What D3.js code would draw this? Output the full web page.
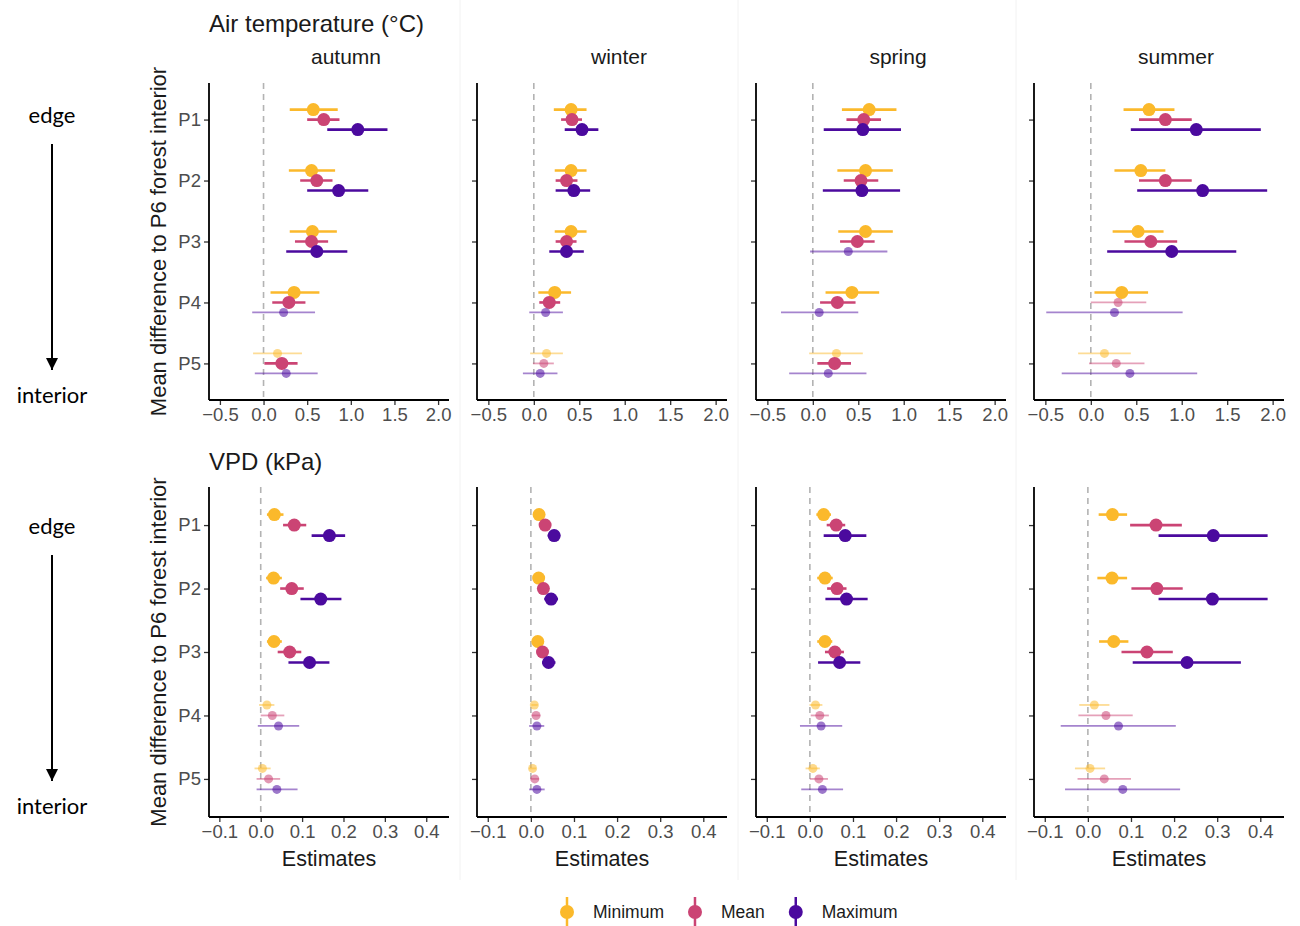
<!DOCTYPE html>
<html>
<head>
<meta charset="utf-8">
<script src="https://cdn.jsdelivr.net/npm/d3@7"></script>
<style>
  body { margin: 0; background: #fff; }
  text { font-family: "Liberation Sans", Arial, sans-serif; }
</style>
</head>
<body>
<div id="chart"></div>
<script>
'use strict';

var sites = ['P1', 'P2', 'P3', 'P4', 'P5'];
var stats = ['Minimum', 'Mean', 'Maximum'];
var seasons = ['autumn', 'winter', 'spring', 'summer'];
var tempTicks = [-0.5, 0, 0.5, 1, 1.5, 2];
var vpdTicks = [-0.1, 0, 0.1, 0.2, 0.3, 0.4];

// [site, stat, estimate, lower, upper, significant]
var tempAutumn = [
  ['P1','Minimum',0.57,0.30,0.85,1], ['P1','Mean',0.69,0.50,0.87,1], ['P1','Maximum',1.08,0.73,1.42,1],
  ['P2','Minimum',0.55,0.29,0.82,1], ['P2','Mean',0.61,0.42,0.79,1], ['P2','Maximum',0.86,0.50,1.20,1],
  ['P3','Minimum',0.56,0.30,0.84,1], ['P3','Mean',0.55,0.36,0.74,1], ['P3','Maximum',0.61,0.26,0.96,1],
  ['P4','Minimum',0.35,0.08,0.64,1], ['P4','Mean',0.29,0.10,0.48,1], ['P4','Maximum',0.23,-0.13,0.59,0],
  ['P5','Minimum',0.16,-0.12,0.44,0], ['P5','Mean',0.21,0.01,0.39,1], ['P5','Maximum',0.26,-0.10,0.62,0]
];
var tempWinter = [
  ['P1','Minimum',0.41,0.22,0.58,1], ['P1','Mean',0.42,0.30,0.53,1], ['P1','Maximum',0.53,0.34,0.71,1],
  ['P2','Minimum',0.41,0.23,0.58,1], ['P2','Mean',0.36,0.24,0.48,1], ['P2','Maximum',0.44,0.24,0.62,1],
  ['P3','Minimum',0.41,0.23,0.58,1], ['P3','Mean',0.36,0.24,0.47,1], ['P3','Maximum',0.36,0.17,0.55,1],
  ['P4','Minimum',0.23,0.05,0.41,1], ['P4','Mean',0.17,0.06,0.29,1], ['P4','Maximum',0.13,-0.05,0.32,0],
  ['P5','Minimum',0.14,-0.04,0.32,0], ['P5','Mean',0.11,-0.01,0.22,0], ['P5','Maximum',0.07,-0.12,0.26,0]
];
var tempSpring = [
  ['P1','Minimum',0.62,0.32,0.92,1], ['P1','Mean',0.56,0.37,0.75,1], ['P1','Maximum',0.55,0.12,0.97,1],
  ['P2','Minimum',0.58,0.27,0.88,1], ['P2','Mean',0.53,0.34,0.72,1], ['P2','Maximum',0.54,0.11,0.96,1],
  ['P3','Minimum',0.58,0.28,0.88,1], ['P3','Mean',0.49,0.30,0.68,1], ['P3','Maximum',0.39,-0.03,0.82,0],
  ['P4','Minimum',0.43,0.14,0.73,1], ['P4','Mean',0.27,0.08,0.47,1], ['P4','Maximum',0.07,-0.35,0.50,0],
  ['P5','Minimum',0.26,-0.04,0.55,0], ['P5','Mean',0.24,0.05,0.42,1], ['P5','Maximum',0.17,-0.26,0.59,0]
];
var tempSummer = [
  ['P1','Minimum',0.64,0.36,0.92,1], ['P1','Mean',0.82,0.53,1.11,1], ['P1','Maximum',1.16,0.44,1.87,1],
  ['P2','Minimum',0.55,0.26,0.82,1], ['P2','Mean',0.82,0.53,1.11,1], ['P2','Maximum',1.23,0.51,1.94,1],
  ['P3','Minimum',0.52,0.24,0.80,1], ['P3','Mean',0.66,0.37,0.95,1], ['P3','Maximum',0.89,0.18,1.60,1],
  ['P4','Minimum',0.34,0.04,0.63,1], ['P4','Mean',0.30,0.00,0.61,0], ['P4','Maximum',0.26,-0.49,1.01,0],
  ['P5','Minimum',0.15,-0.14,0.44,0], ['P5','Mean',0.28,-0.02,0.59,0], ['P5','Maximum',0.43,-0.32,1.17,0]
];
var vpdAutumn = [
  ['P1','Minimum',0.033,0.015,0.055,1], ['P1','Mean',0.081,0.054,0.110,1], ['P1','Maximum',0.166,0.123,0.204,1],
  ['P2','Minimum',0.031,0.013,0.051,1], ['P2','Mean',0.075,0.047,0.104,1], ['P2','Maximum',0.145,0.096,0.195,1],
  ['P3','Minimum',0.032,0.015,0.051,1], ['P3','Mean',0.070,0.041,0.098,1], ['P3','Maximum',0.118,0.067,0.166,1],
  ['P4','Minimum',0.015,-0.004,0.033,0], ['P4','Mean',0.028,0.000,0.057,0], ['P4','Maximum',0.043,-0.007,0.093,0],
  ['P5','Minimum',0.004,-0.015,0.024,0], ['P5','Mean',0.019,-0.010,0.047,0], ['P5','Maximum',0.039,-0.010,0.089,0]
];
var vpdWinter = [
  ['P1','Minimum',0.019,0.012,0.027,1], ['P1','Mean',0.033,0.025,0.041,1], ['P1','Maximum',0.054,0.039,0.068,1],
  ['P2','Minimum',0.018,0.011,0.026,1], ['P2','Mean',0.029,0.021,0.037,1], ['P2','Maximum',0.047,0.031,0.063,1],
  ['P3','Minimum',0.016,0.009,0.024,1], ['P3','Mean',0.027,0.019,0.035,1], ['P3','Maximum',0.041,0.026,0.057,1],
  ['P4','Minimum',0.008,0.001,0.016,0], ['P4','Mean',0.012,0.002,0.022,0], ['P4','Maximum',0.014,-0.004,0.031,0],
  ['P5','Minimum',0.004,-0.004,0.012,0], ['P5','Mean',0.009,0.000,0.019,0], ['P5','Maximum',0.014,-0.004,0.032,0]
];
var vpdSpring = [
  ['P1','Minimum',0.032,0.015,0.049,1], ['P1','Mean',0.061,0.039,0.082,1], ['P1','Maximum',0.082,0.032,0.131,1],
  ['P2','Minimum',0.035,0.017,0.053,1], ['P2','Mean',0.063,0.040,0.085,1], ['P2','Maximum',0.085,0.036,0.134,1],
  ['P3','Minimum',0.035,0.017,0.052,1], ['P3','Mean',0.058,0.035,0.079,1], ['P3','Maximum',0.069,0.019,0.117,1],
  ['P4','Minimum',0.013,-0.001,0.029,0], ['P4','Mean',0.023,0.002,0.044,0], ['P4','Maximum',0.026,-0.023,0.075,0],
  ['P5','Minimum',0.007,-0.010,0.023,0], ['P5','Mean',0.021,0.000,0.042,0], ['P5','Maximum',0.029,-0.020,0.077,0]
];
var vpdSummer = [
  ['P1','Minimum',0.057,0.025,0.091,1], ['P1','Mean',0.158,0.098,0.218,1], ['P1','Maximum',0.291,0.164,0.417,1],
  ['P2','Minimum',0.056,0.022,0.091,1], ['P2','Mean',0.160,0.101,0.220,1], ['P2','Maximum',0.289,0.164,0.417,1],
  ['P3','Minimum',0.060,0.026,0.094,1], ['P3','Mean',0.137,0.078,0.197,1], ['P3','Maximum',0.230,0.104,0.355,1],
  ['P4','Minimum',0.015,-0.020,0.050,0], ['P4','Mean',0.042,-0.022,0.104,0], ['P4','Maximum',0.071,-0.063,0.204,0],
  ['P5','Minimum',0.005,-0.030,0.040,0], ['P5','Mean',0.038,-0.024,0.100,0], ['P5','Maximum',0.081,-0.053,0.214,0]
];

var statColors = ['#FBB92B', '#CB4474', '#4B0A9E'];

var W = 1300, H = 926;
var panelX = [[209, 449], [477, 727], [756, 1006], [1034, 1284]];

var rows = [
  {title: 'Air temperature (°C)', titleY: 32, top: 83, bottom: 400, dodge: 10,
   domain: [-0.625, 2.125], ticks: tempTicks, fmt: d3.format('.1f'),
   panels: [tempAutumn, tempWinter, tempSpring, tempSummer], strips: true, xTitle: false,
   arrowTop: 123},
  {title: 'VPD (kPa)', titleY: 470, top: 487, bottom: 817, dodge: 10.5,
   domain: [-0.125, 0.455], ticks: vpdTicks, fmt: d3.format('.1f'),
   panels: [vpdAutumn, vpdWinter, vpdSpring, vpdSummer], strips: false, xTitle: true,
   arrowTop: 534}
];

var color = d3.scaleOrdinal().domain(stats).range(statColors);

var svg = d3.select('#chart').append('svg')
    .attr('width', W)
    .attr('height', H);

// faint borders of the pasted sub-figures
[460, 738, 1016].forEach(function(x) {
    svg.append('line')
        .attr('x1', x).attr('x2', x).attr('y1', 0).attr('y2', 880)
        .attr('stroke', '#f2f2f2').attr('stroke-width', 1);
});

svg.append('defs').append('marker')
    .attr('id', 'arrowhead')
    .attr('viewBox', '0 0 10 10')
    .attr('refX', 10).attr('refY', 5)
    .attr('markerWidth', 6).attr('markerHeight', 6)
    .attr('markerUnits', 'strokeWidth')
    .attr('orient', 'auto')
    .append('path')
    .attr('d', 'M0,0L10,5L0,10z')
    .attr('fill', '#000');

rows.forEach(function(row) {

    // row title
    svg.append('text')
        .attr('x', 209).attr('y', row.titleY)
        .attr('font-size', 24)
        .attr('fill', '#1a1a1a')
        .text(row.title);

    // edge / interior guide on the far left
    svg.append('text')
        .attr('x', 52).attr('y', row.arrowTop)
        .attr('text-anchor', 'middle')
        .style('font-family', 'Lato, "Open Sans", sans-serif')
        .attr('font-size', 22)
        .text('edge');
    svg.append('line')
        .attr('x1', 52).attr('x2', 52)
        .attr('y1', row.arrowTop + 21).attr('y2', row.arrowTop + 247)
        .attr('stroke', '#000').attr('stroke-width', 2)
        .attr('marker-end', 'url(#arrowhead)');
    svg.append('text')
        .attr('x', 52).attr('y', row.arrowTop + 280)
        .attr('text-anchor', 'middle')
        .style('font-family', 'Lato, "Open Sans", sans-serif')
        .attr('font-size', 22)
        .text('interior');

    // y axis title
    svg.append('text')
        .attr('transform', 'translate(166,' + ((row.top + row.bottom) / 2) + ') rotate(-90)')
        .attr('text-anchor', 'middle')
        .attr('font-size', 22)
        .attr('fill', '#1a1a1a')
        .text('Mean difference to P6 forest interior');

    var y = d3.scalePoint().domain(sites).range([row.top, row.bottom]).padding(0.6);
    var dy = d3.scalePoint().domain(stats).range([-row.dodge, row.dodge]);

    row.panels.forEach(function(data, i) {
        var x = d3.scaleLinear().domain(row.domain).range(panelX[i]);
        var g = svg.append('g');

        if (row.strips) {
            g.append('text')
                .attr('x', (panelX[i][0] + panelX[i][1]) / 2 + 17)
                .attr('y', 64)
                .attr('text-anchor', 'middle')
                .attr('font-size', 21)
                .attr('fill', '#1a1a1a')
                .text(seasons[i]);
        }

        // zero reference
        g.append('line')
            .attr('x1', x(0)).attr('x2', x(0))
            .attr('y1', row.top).attr('y2', row.bottom)
            .attr('stroke', '#b3b3b3').attr('stroke-width', 1.6)
            .attr('stroke-dasharray', '6,5');

        var pts = data.map(function(d) {
            return {site: d[0], stat: d[1], est: d[2], lo: d[3], hi: d[4], sig: d[5]};
        });

        g.selectAll('line.ci')
            .data(pts)
            .enter()
            .append('line')
            .attr('class', 'ci')
            .attr('x1', function(d) { return x(d.lo); })
            .attr('x2', function(d) { return x(d.hi); })
            .attr('y1', function(d) { return y(d.site) + dy(d.stat); })
            .attr('y2', function(d) { return y(d.site) + dy(d.stat); })
            .attr('stroke', function(d) { return color(d.stat); })
            .attr('stroke-width', function(d) { return d.sig ? 2.6 : 1.8; })
            .attr('stroke-opacity', function(d) { return d.sig ? 1 : 0.5; });

        g.selectAll('circle')
            .data(pts)
            .enter()
            .append('circle')
            .attr('cx', function(d) { return x(d.est); })
            .attr('cy', function(d) { return y(d.site) + dy(d.stat); })
            .attr('r', function(d) { return d.sig ? 6.5 : 4.5; })
            .attr('fill', function(d) { return color(d.stat); })
            .attr('fill-opacity', function(d) { return d.sig ? 1 : 0.55; });

        // axes
        var xAxis = g.append('g')
            .attr('transform', 'translate(0,' + row.bottom + ')')
            .call(d3.axisBottom(x).tickValues(row.ticks).tickFormat(row.fmt).tickSize(5).tickPadding(3));
        var yAxis = g.append('g')
            .attr('transform', 'translate(' + panelX[i][0] + ',0)')
            .call(d3.axisLeft(y).tickSize(5).tickPadding(3).tickFormat(i === 0 ? null : ''));

        [xAxis, yAxis].forEach(function(ax) {
            ax.select('.domain').remove();
            ax.selectAll('.tick line').attr('stroke', '#333').attr('stroke-width', 1.3);
            ax.selectAll('.tick text')
                .attr('fill', '#4d4d4d')
                .attr('font-size', 18.5)
                .style('font-family', '"Liberation Sans", Arial, sans-serif');
        });
        // axis lines across the full panel
        g.append('line')
            .attr('x1', panelX[i][0]).attr('x2', panelX[i][1])
            .attr('y1', row.bottom).attr('y2', row.bottom)
            .attr('stroke', '#000').attr('stroke-width', 1.8);
        g.append('line')
            .attr('x1', panelX[i][0]).attr('x2', panelX[i][0])
            .attr('y1', row.top).attr('y2', row.bottom)
            .attr('stroke', '#000').attr('stroke-width', 1.8);

        if (row.xTitle) {
            g.append('text')
                .attr('x', (panelX[i][0] + panelX[i][1]) / 2)
                .attr('y', 866)
                .attr('text-anchor', 'middle')
                .attr('font-size', 21.5)
                .attr('fill', '#1a1a1a')
                .text('Estimates');
        }
    });
});

// legend
var legend = svg.append('g').attr('transform', 'translate(567,912)');
var lx = 0;
stats.forEach(function(s) {
    var item = legend.append('g').attr('transform', 'translate(' + lx + ',0)');
    item.append('line')
        .attr('x1', 0).attr('x2', 0).attr('y1', -15).attr('y2', 15)
        .attr('stroke', color(s)).attr('stroke-width', 2.5);
    item.append('circle')
        .attr('r', 7)
        .attr('fill', color(s));
    var t = item.append('text')
        .attr('x', 26).attr('y', 6)
        .attr('font-size', 17.5)
        .attr('fill', '#1a1a1a')
        .text(s);
    lx += 26 + t.node().getComputedTextLength() + 31;
});
</script>
</body>
</html>
